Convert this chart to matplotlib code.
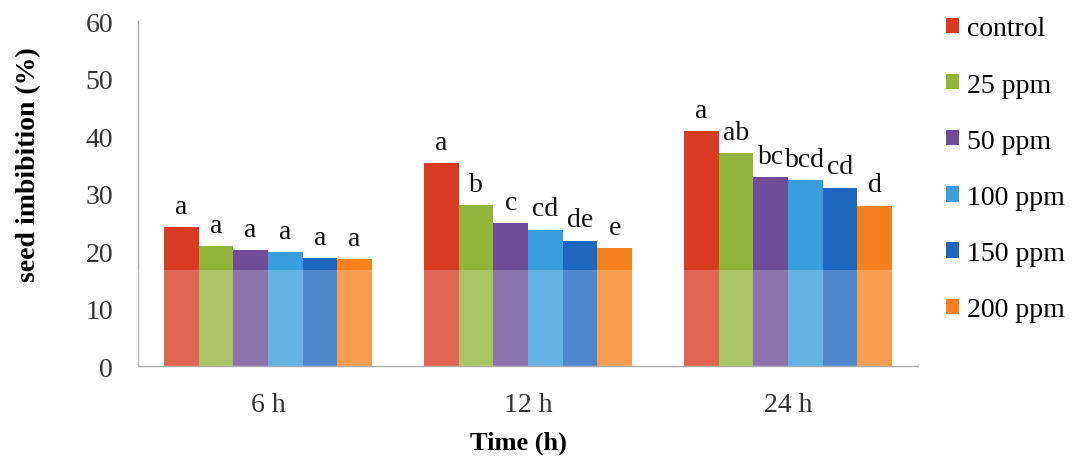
import matplotlib
matplotlib.use("Agg")
import matplotlib.pyplot as plt
import numpy as np

times = ["6 h", "12 h", "24 h"]
series = ["control", "25 ppm", "50 ppm", "100 ppm", "150 ppm", "200 ppm"]
values = {
    "control": [24.2, 35.3, 40.9],
    "25 ppm": [20.9, 28.0, 37.0],
    "50 ppm": [20.2, 24.9, 32.9],
    "100 ppm": [19.8, 23.7, 32.3],
    "150 ppm": [18.8, 21.8, 31.0],
    "200 ppm": [18.6, 20.5, 27.9],
}
letters = {
    "control": ["a", "a", "a"],
    "25 ppm": ["a", "b", "ab"],
    "50 ppm": ["a", "c", "bc"],
    "100 ppm": ["a", "cd", "bcd"],
    "150 ppm": ["a", "de", "cd"],
    "200 ppm": ["a", "e", "d"],
}
colors = ["#D83A22", "#93B43A", "#6E4C96", "#3A9DDD", "#1E66BE", "#F5821F"]

plt.rcParams['font.family'] = ['Liberation Serif', 'DejaVu Serif']

fig = plt.figure(figsize=(10.73, 4.6), dpi=100)
ax = fig.add_axes([0.1286, 0.202, 0.727, 0.750])

x = np.arange(len(times))
n = len(series)
w = 0.8 / n
handles = []
for i, s in enumerate(series):
    pos = x - 0.4 + w * (i + 0.5)
    b = ax.bar(pos, values[s], width=w, color=colors[i], zorder=2, label=s)
    handles.append(b)
    for xp, v, lab in zip(pos, values[s], letters[s]):
        ax.annotate(lab, (xp, v), xytext=(0, 6), textcoords="offset points",
                    ha="center", va="bottom", fontsize=20, color="#111111")

# faded lower band of the scan
ax.axhspan(0, 16.7, color="white", alpha=0.22, zorder=3, lw=0)

ax.set_xlim(-0.5, 2.5)
ax.set_ylim(0, 60)
ax.set_yticks(range(0, 61, 10))
ax.set_xticks(x)
ax.set_xticklabels(times)
ax.tick_params(axis="y", length=0, pad=18, labelsize=20, labelcolor="#333333")
ax.tick_params(axis="x", length=0, pad=19, labelsize=20, labelcolor="#333333")
for sp in ["top", "right"]:
    ax.spines[sp].set_visible(False)
for sp in ["left", "bottom"]:
    ax.spines[sp].set_color("#AAAAAA")
    ax.spines[sp].set_linewidth(1)

ax.set_ylabel("seed imbibition (%)", fontsize=20, fontweight="bold")
ax.yaxis.set_label_coords(-0.124, 0.588)
fig.text(0.483, 0.037, "Time (h)", fontsize=19, fontweight="bold", ha="center", va="center")

leg = fig.legend(handles=handles, loc="upper left", bbox_to_anchor=(0.8816, 0.962),
                 frameon=False, fontsize=20, handlelength=0.47, handleheight=0.47,
                 handletextpad=0.3, labelspacing=1.12, borderpad=0, borderaxespad=0)

fig.savefig("out.png", dpi=100)
